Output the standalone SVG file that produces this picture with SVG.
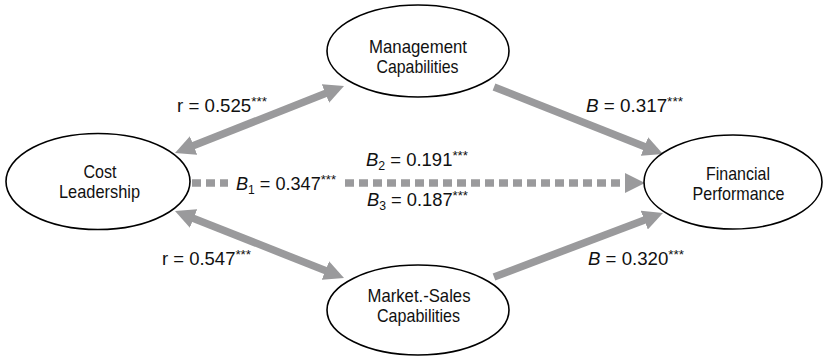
<svg xmlns="http://www.w3.org/2000/svg" width="824" height="358" viewBox="0 0 824 358">
<style>
.node ellipse{fill:#fff;stroke:#000;stroke-width:1.6}
text{font-family:"Liberation Sans",Arial,sans-serif;font-size:18.5px;fill:#111}
.lb{font-size:18px}
.nt{text-anchor:middle}
.sup{font-size:13px}
.sub{font-size:12px}
.it{font-style:italic}
.conn line{stroke:#9a9a9c;stroke-width:7.5;fill:none}
.conn line.dash{stroke-width:7.5;stroke-dasharray:9 5}
</style>
<defs>
<marker id="ah" markerUnits="userSpaceOnUse" viewBox="0 0 20 20" markerWidth="20" markerHeight="20" refX="6" refY="10" orient="auto-start-reverse">
<path d="M0,0 L20,10 L0,20 z" fill="#9a9a9c"/>
</marker>
</defs>
<rect width="824" height="358" fill="#fff"/>
<g id="connectors" class="conn">
<line x1="188" y1="147.8" x2="331" y2="91.2" marker-start="url(#ah)" marker-end="url(#ah)"/>
<line x1="188" y1="216.2" x2="331" y2="272.8" marker-start="url(#ah)" marker-end="url(#ah)"/>
<line x1="494" y1="87" x2="650" y2="148.8" marker-end="url(#ah)"/>
<line x1="494" y1="277" x2="649.9" y2="218" marker-end="url(#ah)"/>
<line class="dash" x1="192" y1="183" x2="228" y2="183"/>
<line class="dash" x1="345" y1="183" x2="631" y2="183" marker-end="url(#ah)"/>
</g>
<g id="cost-leadership" class="node">
<ellipse cx="98" cy="181.5" rx="92" ry="48"/>
<text class="nt" x="100" y="178" textLength="33" lengthAdjust="spacingAndGlyphs">Cost</text>
<text class="nt" x="99.5" y="198" textLength="81" lengthAdjust="spacingAndGlyphs">Leadership</text>
</g>
<g id="management-capabilities" class="node">
<ellipse cx="418" cy="51" rx="91" ry="46"/>
<text class="nt" x="418" y="53" textLength="98" lengthAdjust="spacingAndGlyphs">Management</text>
<text class="nt" x="417.5" y="73" textLength="82" lengthAdjust="spacingAndGlyphs">Capabilities</text>
</g>
<g id="market-sales-capabilities" class="node">
<ellipse cx="418" cy="310" rx="91" ry="45"/>
<text class="nt" x="419" y="302" textLength="103" lengthAdjust="spacingAndGlyphs">Market.-Sales</text>
<text class="nt" x="418.5" y="322" textLength="83" lengthAdjust="spacingAndGlyphs">Capabilities</text>
</g>
<g id="financial-performance" class="node">
<ellipse cx="733" cy="182" rx="89" ry="47"/>
<text class="nt" x="738" y="180" textLength="64" lengthAdjust="spacingAndGlyphs">Financial</text>
<text class="nt" x="738.5" y="199.5" textLength="92" lengthAdjust="spacingAndGlyphs">Performance</text>
</g>
<g id="labels">
<text class="lb" x="177" y="112" textLength="90" lengthAdjust="spacingAndGlyphs">r = 0.525<tspan class="sup" dy="-6">***</tspan></text>
<text class="lb" x="162" y="265" textLength="89" lengthAdjust="spacingAndGlyphs">r = 0.547<tspan class="sup" dy="-6">***</tspan></text>
<text class="lb" x="586" y="112" textLength="97" lengthAdjust="spacingAndGlyphs"><tspan class="it">B</tspan> = 0.317<tspan class="sup" dy="-6">***</tspan></text>
<text class="lb" x="588" y="265" textLength="96" lengthAdjust="spacingAndGlyphs"><tspan class="it">B</tspan> = 0.320<tspan class="sup" dy="-6">***</tspan></text>
<text class="lb" x="366" y="166" textLength="102" lengthAdjust="spacingAndGlyphs"><tspan class="it">B</tspan><tspan class="sub" dy="4">2</tspan><tspan dy="-4"> = 0.191</tspan><tspan class="sup" dy="-6">***</tspan></text>
<text class="lb" x="236" y="190" textLength="100" lengthAdjust="spacingAndGlyphs"><tspan class="it">B</tspan><tspan class="sub" dy="4">1</tspan><tspan dy="-4"> = 0.347</tspan><tspan class="sup" dy="-6">***</tspan></text>
<text class="lb" x="367" y="206" textLength="101" lengthAdjust="spacingAndGlyphs"><tspan class="it">B</tspan><tspan class="sub" dy="4">3</tspan><tspan dy="-4"> = 0.187</tspan><tspan class="sup" dy="-6">***</tspan></text>
</g>
</svg>
